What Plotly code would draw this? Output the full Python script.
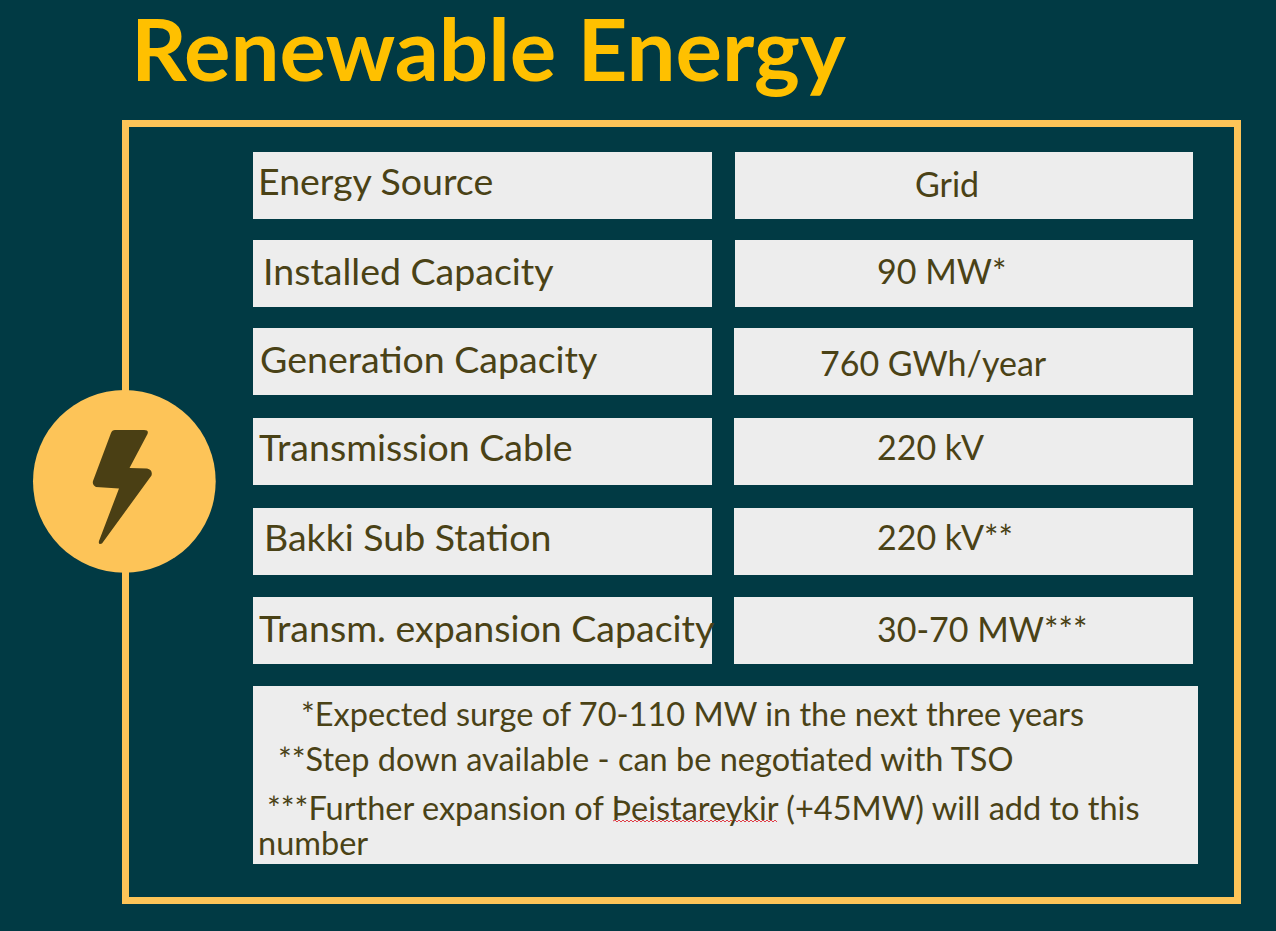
import plotly.graph_objects as go

W = 1276
H = 931

BG = "#013A44"
GOLD = "#FDC458"
TITLE_COLOR = "#FFC000"
BOX = "#EDEDED"
INK = "#4A4216"
FONT = "Lato"

title = "Renewable Energy"

# table contents
labels = ["Energy Source", "Installed Capacity", "Generation Capacity",
          "Transmission Cable", "Bakki Sub Station", "Transm. expansion Capacity"]
values = ["Grid", "90 MW*", "760 GWh/year", "220 kV", "220 kV**", "30-70 MW***"]
notes = ["*Expected surge of 70-110 MW in the next three years",
         "**Step down available - can be negotiated with TSO",
         "***Further expansion of Þeistareykir (+45MW) will add to this",
         "number"]

# layout of the rows, in pixels
row_top = [152, 240, 328, 418, 508, 597]
row_bottom = [219, 307, 395, 485, 575, 664]
value_left = [735, 735, 734, 734, 734, 734]
label_x = [256, 261, 258, 257, 262, 257]
label_y = [180, 270, 358, 446, 536, 627]
value_x = [913, 875, 818, 875, 875, 875]
value_y = [183, 270, 362, 446, 536, 628]
note_x = [299, 276, 265, 256]
note_y = [713, 758, 807, 842]

fig = go.Figure()

# frame round the table
fig.add_shape(type="rect", x0=125.5, x1=1237.5, y0=123.5, y1=900.5,
              line=dict(color=GOLD, width=7), fillcolor=BG)

# grey boxes
for top, bottom, left in zip(row_top, row_bottom, value_left):
    fig.add_shape(type="rect", x0=253, x1=712, y0=top, y1=bottom,
                  line_width=0, fillcolor=BOX)
    fig.add_shape(type="rect", x0=left, x1=1193, y0=top, y1=bottom,
                  line_width=0, fillcolor=BOX)
fig.add_shape(type="rect", x0=253, x1=1198, y0=686, y1=864,
              line_width=0, fillcolor=BOX)

# circle and lightning bolt
fig.add_shape(type="circle", x0=33, x1=215.7, y0=390, y1=572.7,
              line_width=0, fillcolor=GOLD)
bolt = ("M 115 430 L 144 430 Q 149 430 147.5 434 L 129.5 468 L 147 468.5 "
        "Q 153 470 151.5 475.5 L 102 543.5 Q 98 545 99 541 L 119 488.5 "
        "L 96 487 Q 92 485 93 481 L 111 433 Q 112 430 115 430 Z")
fig.add_shape(type="path", path=bolt, line_width=0, fillcolor="#4A3F14")

# red spell check squiggle under the place name
squiggle = "M 613 821"
x = 613
up = True
while x < 777:
    x += 2
    squiggle += f" L {x} {820 if up else 822}"
    up = not up
fig.add_shape(type="path", path=squiggle, line=dict(color="#E0404A", width=1))

fig.add_annotation(x=129, y=47, text=f"<b>{title}</b>", showarrow=False,
                   xanchor="left", yanchor="middle",
                   font=dict(family=FONT, size=87, color=TITLE_COLOR))

for text, x, y in zip(labels, label_x, label_y):
    fig.add_annotation(x=x, y=y, text=text, showarrow=False, xanchor="left",
                       yanchor="middle", font=dict(family=FONT, size=37.5, color=INK))
for text, x, y in zip(values, value_x, value_y):
    fig.add_annotation(x=x, y=y, text=text, showarrow=False, xanchor="left",
                       yanchor="middle", font=dict(family=FONT, size=34, color=INK))
for text, x, y in zip(notes, note_x, note_y):
    fig.add_annotation(x=x, y=y, text=text, showarrow=False, xanchor="left",
                       yanchor="middle", font=dict(family=FONT, size=32.5, color=INK))

fig.update_xaxes(range=[0, W], visible=False, fixedrange=True)
fig.update_yaxes(range=[H, 0], visible=False, fixedrange=True)
fig.update_layout(width=W, height=H, margin=dict(l=0, r=0, t=0, b=0),
                  paper_bgcolor=BG, plot_bgcolor=BG, showlegend=False)

fig.write_html("out.html", config={"displayModeBar": False},
               post_script="document.body.style.margin='0';")
